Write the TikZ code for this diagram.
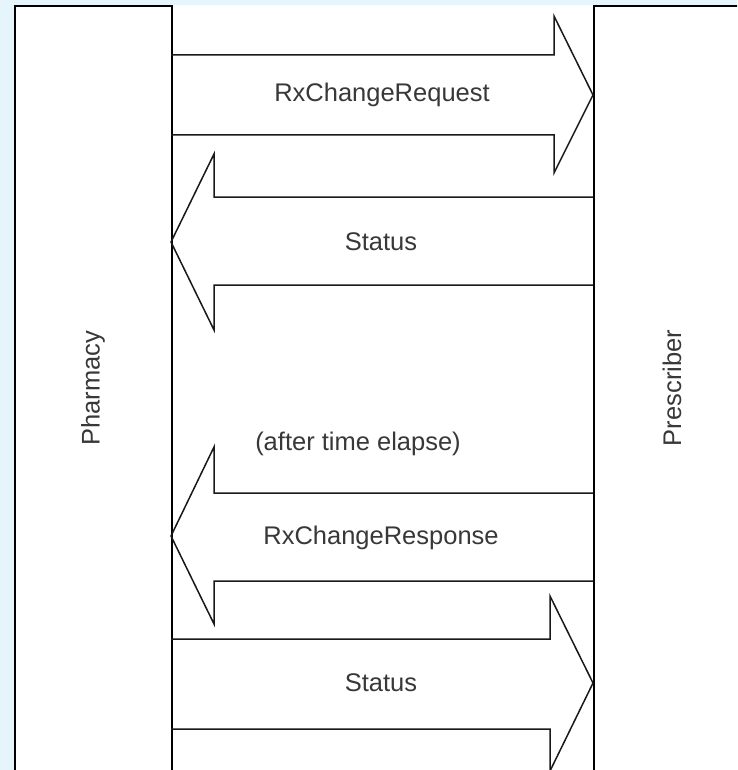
\documentclass[tikz,border=0pt]{standalone}
\usepackage{fontspec}
\setmainfont{Liberation Sans}
\definecolor{bgblue}{RGB}{230,244,252}
\begin{document}
\begin{tikzpicture}[x=1pt,y=-1pt,
  lane/.style={draw=black, fill=white, line width=1.8pt, rectangle, inner sep=0pt, anchor=north west},
  blockarrow/.style={draw=black!90, line width=1.5pt, line join=miter},
  lbl/.style={font=\fontsize{25.5}{30}\selectfont, text=black!78, inner sep=0pt}]
\useasboundingbox (0,0) rectangle (737,770);
\fill[bgblue] (0,0) rectangle (737,770);
\clip (0,0) rectangle (737,770);
\fill[white] (14,5) rectangle (737,770);
% lanes
\node[lane, minimum width=157pt, minimum height=820pt] (pharm) at (14,5) {};
\node[lane, minimum width=157pt, minimum height=820pt] (presc) at (593,5) {};
\node[lbl, rotate=90] (pharmlbl) at (93,388) {Pharmacy};
\node[lbl, rotate=90] (presclbl) at (672,388) {Prescriber};
% arrow 1: RxChangeRequest (right)
\draw[blockarrow] (171,55) -- (554,55) -- (554,16) -- (593,95) -- (554,173) -- (554,135) -- (171,135);
\node[lbl] (req) at (382,95) {RxChangeRequest};
% arrow 2: Status (left)
\draw[blockarrow] (593,197) -- (214,197) -- (214,154) -- (171,242) -- (214,330) -- (214,285) -- (593,285);
\node[lbl] (st1) at (381,242) {Status};
% arrow 3: RxChangeResponse (left)
\draw[blockarrow] (593,493) -- (214,493) -- (214,447) -- (171,536) -- (214,624) -- (214,581) -- (593,581);
\node[lbl] (elapse) at (358,444) {(after time elapse)};
\node[lbl] (resp) at (381,537.5) {RxChangeResponse};
% arrow 4: Status (right)
\draw[blockarrow] (171,639) -- (550,639) -- (550,596) -- (593,683) -- (550,771) -- (550,729) -- (171,729);
\node[lbl] (st2) at (381,683) {Status};
\end{tikzpicture}
\end{document}
